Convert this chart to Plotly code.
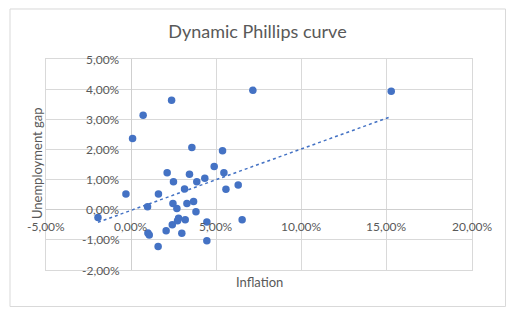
import numpy as np
import plotly.graph_objects as go

# Inflation (%) and unemployment gap (%) observations
inflation = [-1.95, -0.31, 0.08, 0.70, 0.96, 0.98, 1.06, 1.58, 1.60, 2.11,
             2.05, 2.37, 2.41, 2.45, 2.48, 2.68, 2.72, 2.78, 2.97, 3.13,
             3.17, 3.27, 3.42, 3.56, 3.66, 3.80, 3.85, 4.32, 4.44, 4.44,
             4.87, 5.36, 5.44, 5.56, 6.28, 6.51, 7.14, 15.26]
unemployment_gap = [-0.26, 0.52, 2.36, 3.13, 0.10, -0.77, -0.84, -1.22, 0.52, 1.23,
                    -0.70, 3.63, -0.50, 0.21, 0.93, 0.04, -0.37, -0.28, -0.78, 0.69,
                    -0.33, 0.21, 1.18, 2.06, 0.27, -0.07, 0.93, 1.04, -0.41, -1.03,
                    1.43, 1.96, 1.23, 0.68, 0.82, -0.33, 3.96, 3.93]

x_ticks = [-5, 0, 5, 10, 15, 20]
y_ticks = [-2, -1, 0, 1, 2, 3, 4, 5]

def pct(v):
    return f"{v:.2f}".replace(".", ",") + "%"

BLUE = "#4472C4"
GRID = "#D9D9D9"
TEXT = "#595959"
FONT = "Lato, Open Sans, sans-serif"

# Linear trendline over the observed inflation range
slope, intercept = np.polyfit(inflation, unemployment_gap, 1)
tx = np.array([min(inflation), max(inflation)])
ty = slope * tx + intercept

fig = go.Figure()
fig.add_trace(go.Scatter(
    x=tx, y=ty, mode="lines",
    line=dict(color=BLUE, width=1.5, dash="dot"),
    hoverinfo="skip", showlegend=False,
))
fig.add_trace(go.Scatter(
    x=inflation, y=unemployment_gap, mode="markers",
    marker=dict(color=BLUE, size=7.5),
    showlegend=False,
))

# Tick labels sit next to the axes that cross at the origin
annotations = []
for v in x_ticks:
    annotations.append(dict(
        x=v, y=0, xref="x", yref="y", text=pct(v), showarrow=False,
        xanchor="center", yanchor="middle", yshift=-17,
        font=dict(family=FONT, size=12, color=TEXT),
    ))
for v in y_ticks:
    annotations.append(dict(
        x=0, y=v, xref="x", yref="y", text=pct(v), showarrow=False,
        xanchor="right", yanchor="middle", xshift=-9,
        font=dict(family=FONT, size=12, color=TEXT),
    ))
annotations.append(dict(
    x=0.5, y=-0.057, xref="paper", yref="paper", text="Inflation",
    showarrow=False, xanchor="center", yanchor="middle",
    font=dict(family=FONT, size=13, color=TEXT),
))
annotations.append(dict(
    x=-0.021, y=0.507, xref="paper", yref="paper", text="Unemployment gap",
    showarrow=False, xanchor="center", yanchor="middle", textangle=-90,
    font=dict(family=FONT, size=13, color=TEXT),
))

fig.update_layout(
    width=517, height=322,
    margin=dict(l=46, r=45, t=59, b=52),
    paper_bgcolor="white", plot_bgcolor="white",
    title=dict(
        text="Dynamic Phillips curve",
        x=0.498, xref="container", xanchor="center",
        y=0.903, yref="container", yanchor="middle",
        font=dict(family=FONT, size=18, color=TEXT),
    ),
    xaxis=dict(
        range=[-5, 20], tickvals=x_ticks, showticklabels=False,
        showgrid=True, gridcolor=GRID, gridwidth=1,
        zeroline=True, zerolinecolor="#CFCFCF", zerolinewidth=1,
        showline=True, linecolor=GRID, mirror=True, fixedrange=True,
    ),
    yaxis=dict(
        range=[-2, 5], tickvals=y_ticks, showticklabels=False,
        showgrid=True, gridcolor=GRID, gridwidth=1,
        zeroline=True, zerolinecolor="#CFCFCF", zerolinewidth=1,
        showline=True, linecolor=GRID, mirror=True, fixedrange=True,
    ),
    annotations=annotations,
    shapes=[dict(
        type="rect", xref="paper", yref="paper",
        x0=-0.0845, x1=1.0787, y0=-0.173, y1=1.237,
        line=dict(color=GRID, width=1), layer="below",
    )],
)

fig.write_html("out.html")
